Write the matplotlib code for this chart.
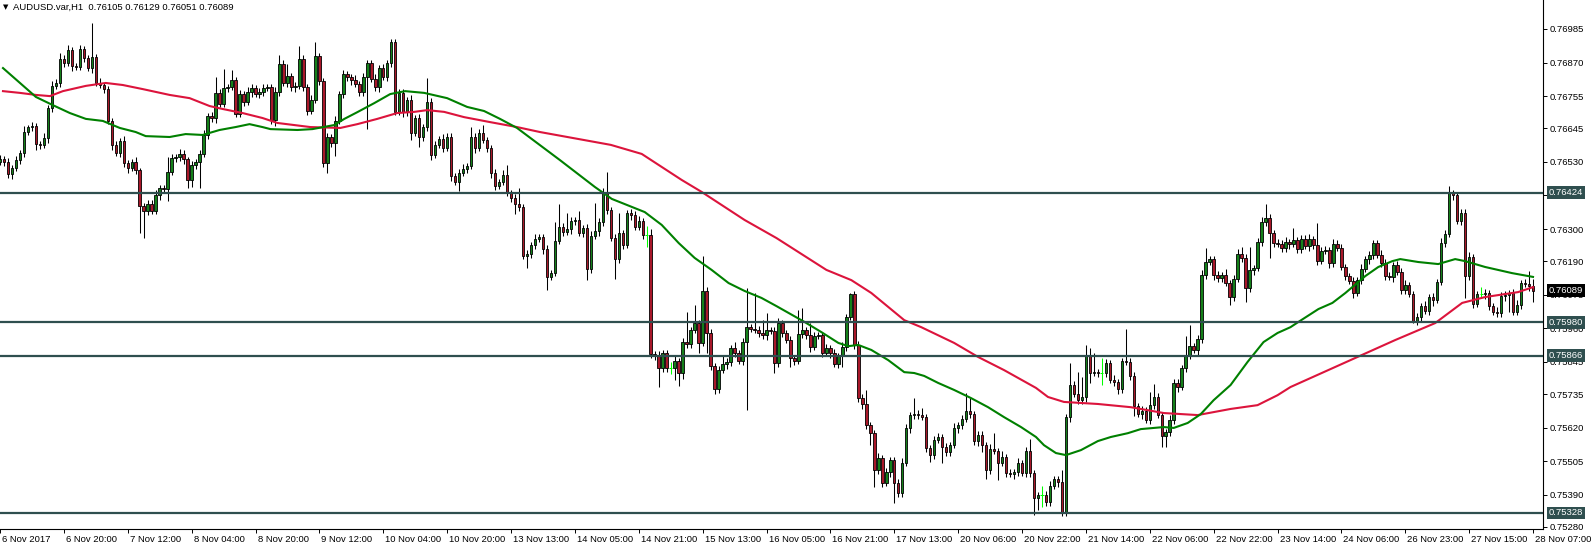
import numpy as np
import matplotlib
matplotlib.use("Agg")
import matplotlib.pyplot as plt
import matplotlib.transforms as mtransforms

plt.rcParams['font.family'] = ['Liberation Sans', 'DejaVu Sans']

title = "AUDUSD.var,H1  0.76105 0.76129 0.76051 0.76089"
current_price = 0.76089

# H1 closes in points (1e-5), first bar 6 Nov 04:00, open = previous close
first_open = 76530
closes = [
    76540, 76529, 76488, 76509, 76536, 76560, 76632, 76649, 76653, 76591, 76588, 76612, 76714, 76790, 76800, 76882, 76868, 76913, 76858, 76855,
    76916, 76885, 76851, 76889, 76800, 76793, 76779, 76670, 76588, 76560, 76601, 76526, 76509, 76529, 76502, 76379, 76362, 76386, 76362, 76416,
    76440, 76437, 76495, 76543, 76546, 76557, 76540, 76468, 76519, 76529, 76557, 76622, 76687, 76680, 76766, 76728, 76783, 76786, 76810, 76694,
    76762, 76735, 76769, 76783, 76762, 76769, 76783, 76786, 76673, 76769, 76865, 76800, 76824, 76786, 76789, 76882, 76786, 76704, 76742, 76892,
    76807, 76526, 76615, 76594, 76670, 76762, 76831, 76820, 76810, 76796, 76769, 76820, 76868, 76814, 76786, 76851, 76820, 76868, 76940, 76701,
    76766, 76701, 76742, 76629, 76680, 76615, 76649, 76735, 76553, 76588, 76608, 76577, 76615, 76481, 76461, 76492, 76505, 76516, 76615, 76577,
    76629, 76605, 76577, 76492, 76447, 76461, 76485, 76423, 76406, 76386, 76375, 76207, 76214, 76245, 76266, 76272, 76231, 76136, 76149, 76259,
    76307, 76290, 76300, 76327, 76331, 76286, 76303, 76163, 76276, 76293, 76324, 76423, 76365, 76269, 76197, 76286, 76245, 76355, 76348, 76307,
    76327, 76279, 76279, 75872, 75869, 75824, 75875, 75824, 75824, 75848, 75807, 75913, 75906, 75954, 75978, 75910, 76088, 75944, 75831, 75752,
    75817, 75838, 75845, 75892, 75875, 75848, 75913, 75964, 75958, 75954, 75944, 75937, 75954, 75951, 75841, 75978, 75944, 75920, 75858, 75848,
    75940, 75954, 75937, 75896, 75934, 75937, 75875, 75892, 75875, 75838, 75865, 75896, 75999, 76077, 75903, 75721, 75701, 75629, 75601, 75475,
    75516, 75430, 75468, 75509, 75430, 75396, 75499, 75619, 75663, 75667, 75664, 75656, 75550, 75526, 75577, 75588, 75554, 75536, 75560, 75619,
    75629, 75649, 75677, 75667, 75574, 75595, 75560, 75475, 75547, 75540, 75499, 75519, 75464, 75461, 75468, 75499, 75464, 75540, 75464, 75379,
    75389, 75389, 75365, 75420, 75444, 75434, 75331, 75656, 75766, 75735, 75714, 75725, 75865, 75807, 75810, 75807, 75807, 75841, 75783, 75776,
    75752, 75848, 75845, 75797, 75694, 75667, 75677, 75646, 75697, 75725, 75663, 75591, 75605, 75646, 75773, 75759, 75824, 75869, 75899, 75886,
    75923, 76142, 76187, 76197, 76142, 76132, 76142, 76115, 76067, 76129, 76214, 76201, 76098, 76160, 76166, 76255, 76324, 76338, 76286, 76252,
    76249, 76235, 76255, 76249, 76262, 76231, 76266, 76242, 76266, 76245, 76190, 76225, 76228, 76184, 76249, 76235, 76170, 76139, 76122, 76081,
    76125, 76163, 76197, 76211, 76252, 76211, 76184, 76139, 76136, 76177, 76153, 76091, 76108, 76077, 75985, 75999, 76036, 76019, 76067, 76057,
    76118, 76252, 76283, 76423, 76416, 76327, 76355, 76139, 76204, 76043, 76077, 76077, 76081, 76036, 76016, 76012, 76071, 76074, 76081, 76016,
    76040, 76115, 76112, 76105, 76089,
]

# wick lengths beyond the body, points
wick_up = [
    12, 10, 15, 9, 14, 12, 20, 8, 14, 10, 12, 18, 10, 16, 12, 20, 14, 18, 10, 12,
    14, 10, 12, 116, 10, 16, 8, 12, 10, 14, 12, 18, 10, 12, 16, 8, 10, 14, 12, 18,
    12, 10, 51, 14, 10, 16, 12, 8, 14, 10, 12, 16, 10, 14, 55, 12, 65, 10, 35, 12,
    14, 10, 16, 12, 10, 14, 12, 10, 10, 16, 31, 12, 40, 10, 14, 45, 12, 10, 16, 48,
    12, 10, 14, 10, 16, 12, 14, 10, 12, 18, 10, 14, 12, 10, 16, 12, 14, 10, 10, 12,
    14, 12, 10, 16, 12, 14, 10, 82, 12, 14, 10, 16, 12, 14, 10, 12, 16, 10, 34, 12,
    14, 27, 10, 12, 14, 10, 16, 34, 12, 14, 55, 10, 14, 12, 16, 10, 12, 14, 10, 65,
    79, 12, 55, 14, 10, 30, 12, 14, 16, 96, 12, 17, 72, 10, 14, 68, 12, 10, 14, 12,
    16, 12, 30, 20, 12, 14, 10, 12, 20, 16, 12, 14, 103, 12, 62, 10, 120, 14, 12, 10,
    14, 27, 12, 10, 20, 12, 14, 134, 12, 123, 14, 45, 58, 12, 14, 17, 12, 10, 14, 12,
    82, 75, 12, 41, 14, 10, 12, 16, 10, 14, 12, 16, 10, 5, 10, 12, 14, 48, 12, 10,
    16, 12, 14, 10, 12, 14, 16, 12, 10, 55, 14, 24, 10, 12, 16, 12, 10, 14, 12, 16,
    12, 14, 62, 45, 10, 14, 12, 10, 16, 55, 12, 20, 10, 14, 12, 16, 10, 14, 41, 10,
    12, 30, 14, 16, 12, 10, 41, 10, 75, 12, 75, 68, 38, 27, 65, 12, 50, 14, 10, 16,
    12, 10, 110, 14, 12, 10, 16, 12, 45, 45, 14, 12, 10, 16, 12, 14, 10, 65, 72, 12,
    14, 16, 48, 12, 10, 14, 12, 20, 12, 14, 16, 24, 12, 79, 12, 14, 16, 48, 12, 10,
    14, 12, 16, 12, 41, 10, 14, 12, 16, 10, 75, 12, 14, 10, 16, 12, 14, 10, 12, 14,
    12, 16, 10, 14, 12, 10, 16, 12, 14, 10, 12, 14, 16, 10, 12, 14, 10, 16, 12, 14,
    12, 16, 14, 24, 12, 10, 14, 12, 16, 10, 12, 24, 14, 10, 12, 16, 12, 14, 10, 12,
    16, 12, 14, 45, 24,
]
wick_dn = [
    10, 14, 12, 16, 10, 12, 14, 10, 12, 20, 14, 10, 16, 12, 10, 14, 12, 10, 16, 12,
    12, 14, 10, 16, 12, 10, 14, 12, 16, 10, 12, 14, 16, 10, 12, 92, 92, 14, 10, 12,
    16, 12, 41, 10, 14, 12, 16, 27, 25, 12, 89, 10, 14, 12, 16, 10, 12, 14, 10, 12,
    10, 14, 12, 16, 10, 12, 14, 10, 12, 20, 12, 10, 14, 12, 16, 10, 12, 14, 10, 12,
    14, 14, 34, 12, 45, 10, 14, 12, 16, 10, 12, 14, 178, 10, 12, 16, 10, 14, 12, 10,
    12, 16, 14, 24, 10, 34, 12, 14, 16, 10, 12, 14, 10, 16, 12, 30, 10, 14, 12, 16,
    10, 12, 14, 16, 14, 10, 12, 10, 14, 34, 12, 10, 41, 12, 14, 10, 16, 45, 12, 10,
    12, 14, 10, 16, 12, 10, 14, 38, 12, 10, 16, 12, 14, 10, 68, 12, 14, 10, 16, 12,
    10, 14, 40, 12, 16, 65, 12, 14, 20, 41, 45, 20, 12, 14, 10, 34, 12, 68, 14, 17,
    12, 10, 16, 14, 12, 10, 14, 233, 12, 10, 14, 12, 16, 10, 34, 12, 14, 10, 31, 12,
    10, 14, 12, 16, 10, 12, 14, 10, 16, 12, 14, 38, 12, 10, 14, 12, 17, 12, 41, 58,
    12, 14, 10, 16, 68, 14, 12, 10, 16, 12, 14, 10, 12, 24, 14, 10, 55, 12, 14, 10,
    16, 12, 10, 14, 12, 16, 24, 31, 12, 10, 58, 12, 14, 10, 16, 12, 10, 14, 12, 58,
    41, 40, 12, 14, 10, 16, 14, 12, 17, 10, 14, 12, 16, 34, 10, 12, 40, 14, 10, 12,
    16, 12, 10, 14, 34, 12, 16, 10, 14, 12, 10, 38, 38, 14, 12, 16, 10, 12, 14, 10,
    20, 12, 14, 10, 16, 12, 14, 10, 27, 12, 10, 14, 48, 12, 16, 10, 14, 12, 86, 12,
    10, 14, 12, 16, 10, 12, 14, 10, 16, 12, 14, 10, 12, 16, 14, 10, 12, 14, 10, 16,
    12, 14, 10, 16, 12, 10, 14, 14, 12, 16, 10, 12, 14, 10, 7, 12, 16, 10, 14, 20,
    12, 10, 14, 12, 16, 10, 14, 75, 12, 14, 10, 12, 16, 14, 10, 12, 14, 16, 58, 12,
    10, 14, 12, 16, 38,
]

# moving averages (bar index, points)
ma_fast_bar = [0.75, 5, 9, 13.25, 17.5, 21.5, 25.75, 30, 34, 36.5, 42.5, 46.5, 50.75, 55, 59, 62.5, 65.75, 67.75, 74.5, 78.25,
               83.75, 86.25, 89.5, 93.75, 97.75, 101.5, 106.25, 112, 117, 121.25, 125.25, 129.5, 140.25, 149, 153.25, 161.5, 165.75, 170, 174, 178.25,
               182.5, 186.5, 190.75, 194.5, 201.5, 205.75, 210, 212.5, 215, 218.25, 222.5, 226.5, 229, 231.5, 235, 239, 243.25, 247.5, 251.5, 255.75,
               259.5, 261.5, 264.5, 267, 270.75, 275, 278.25, 282.5, 285.75, 291.5, 294, 297.5, 300.75, 304, 308.25, 312.5, 316.5, 320, 323.25, 325.25,
               330.25, 333.75, 337, 342, 345.25, 348.75, 350.75, 355.25, 360.25, 364.5, 367, 372, 378.75, 384]
ma_fast = [76851, 76800, 76752, 76724, 76697, 76677, 76670, 76646, 76632, 76618, 76615, 76625, 76622, 76639, 76649, 76659, 76649, 76642, 76639, 76642,
           76656, 76677, 76700, 76731, 76762, 76772, 76766, 76748, 76718, 76704, 76677, 76646, 76536, 76444, 76403, 76358, 76314, 76252, 76201, 76160,
           76115, 76088, 76064, 76036, 75982, 75947, 75910, 75899, 75903, 75886, 75851, 75810, 75807, 75797, 75773, 75749, 75721, 75690, 75656, 75622,
           75588, 75560, 75533, 75526, 75543, 75574, 75588, 75601, 75615, 75622, 75619, 75636, 75666, 75714, 75766, 75845, 75913, 75944, 75964, 75982,
           76026, 76047, 76081, 76139, 76170, 76190, 76197, 76187, 76180, 76197, 76190, 76170, 76149, 76136]

ma_slow_bar = [0.75, 5, 9, 12.5, 15.75, 21.5, 26.5, 30.75, 35.75, 42.5, 47.5, 52.5, 55.75, 60.75, 65.75, 69.5, 77.75, 85.25, 89.5, 94.5,
               99.5, 103.75, 107, 111.25, 116.25, 122.75, 129.5, 135.25, 153, 160.75, 170.75, 175.75, 186.5, 194.5, 207, 213.25, 218.25, 226.5, 230.75, 239,
               245, 251.5, 259.5, 262.5, 266.5, 275, 283.25, 291.5, 300, 308.25, 315, 320, 323.25, 349.5, 359.5, 366.25, 372, 380.25, 384]
ma_slow = [76772, 76766, 76759, 76755, 76772, 76790, 76800, 76793, 76779, 76759, 76748, 76721, 76711, 76697, 76680, 76663, 76649, 76646, 76659, 76677,
           76697, 76701, 76707, 76701, 76683, 76666, 76649, 76632, 76588, 76557, 76468, 76427, 76331, 76269, 76160, 76125, 76081, 75988, 75964, 75910,
           75862, 75817, 75756, 75725, 75708, 75701, 75690, 75670, 75663, 75684, 75697, 75731, 75759, 75920, 75978, 76047, 76067, 76084, 76101]

levels = [0.76424, 0.75980, 0.75866, 0.75328]
price_ticks = [0.76985, 0.76870, 0.76755, 0.76645, 0.76530, 0.76415, 0.76300, 0.76190,
               0.76075, 0.75960, 0.75845, 0.75735, 0.75620, 0.75505, 0.75390, 0.75280]
time_labels = ["6 Nov 2017", "6 Nov 20:00", "7 Nov 12:00", "8 Nov 04:00", "8 Nov 20:00",
               "9 Nov 12:00", "10 Nov 04:00", "10 Nov 20:00", "13 Nov 13:00", "14 Nov 05:00",
               "14 Nov 21:00", "15 Nov 13:00", "16 Nov 05:00", "16 Nov 21:00", "17 Nov 13:00",
               "20 Nov 06:00", "20 Nov 22:00", "21 Nov 14:00", "22 Nov 06:00", "22 Nov 22:00",
               "23 Nov 14:00", "24 Nov 06:00", "26 Nov 23:00", "27 Nov 15:00", "28 Nov 07:00"]

# ---- build OHLC ----
c_pts = np.array(closes)
o_pts = np.r_[first_open, c_pts[:-1]]
hi = (np.maximum(o_pts, c_pts) + np.array(wick_up)) / 1e5
lo = (np.minimum(o_pts, c_pts) - np.array(wick_dn)) / 1e5
o = o_pts / 1e5
c = c_pts / 1e5
x = np.arange(len(c))
bull = c_pts > o_pts
bear = c_pts < o_pts
doji = c_pts == o_pts

green = '#14801a'
red = '#a8182a'

fig = plt.figure(figsize=(15.91, 5.47), dpi=100)
ax = fig.add_axes([0, 18 / 547, 1543 / 1591, 529 / 547])

ax.vlines(x[~doji], lo[~doji], hi[~doji], color='black', lw=0.75, zorder=2)
ax.bar(x[bull], (c - o)[bull], bottom=o[bull], width=0.62, color=green,
       edgecolor='black', lw=0.6, zorder=2)
ax.bar(x[bear], (o - c)[bear], bottom=c[bear], width=0.62, color=red,
       edgecolor='black', lw=0.6, zorder=2)
ax.vlines(x[doji], lo[doji], hi[doji], color='#00ff00', lw=0.75, zorder=2)
ax.hlines(c[doji], x[doji] - 0.4, x[doji] + 0.4, color='#00ff00', lw=0.75, zorder=2)

ax.plot(ma_slow_bar, np.array(ma_slow) / 1e5, color='#dc143c', lw=1.5, zorder=3)
ax.plot(ma_fast_bar, np.array(ma_fast) / 1e5, color='#008000', lw=1.5, zorder=3)

for lvl in levels:
    ax.axhline(lvl, color='#2f4f4f', lw=1.6, zorder=4)

ax.set_xlim(0.75, 386.5)
ax.set_ylim(0.75273, 0.77084)

for s in ['top', 'left']:
    ax.spines[s].set_visible(False)
for s in ['right', 'bottom']:
    ax.spines[s].set_linewidth(0.8)

ax.yaxis.tick_right()
ax.set_yticks(price_ticks)
ax.set_yticklabels([f"{p:.5f}" for p in price_ticks], fontsize=6.8)
ax.tick_params(axis='y', length=3, width=0.7, pad=2)

ax.set_xticks(np.arange(0, len(c), 16))
ax.set_xticklabels(time_labels, fontsize=6.8, ha='left')
ax.tick_params(axis='x', length=3, width=0.7, pad=1)
shift = mtransforms.ScaledTranslation(2 / 100, 0, fig.dpi_scale_trans)
for lbl in ax.get_xticklabels():
    lbl.set_transform(lbl.get_transform() + shift)

for lvl in levels:
    ax.annotate(f"{lvl:.5f}", xy=(1, lvl), xycoords=('axes fraction', 'data'),
                xytext=(4.2, 0), textcoords='offset points', ha='left', va='center',
                fontsize=6.8, color='white', annotation_clip=False, zorder=10,
                bbox=dict(boxstyle='square,pad=0.2', fc='#2f4f4f', ec='none'))
ax.annotate(f"{current_price:.5f}", xy=(1, current_price), xycoords=('axes fraction', 'data'),
            xytext=(4.2, 0), textcoords='offset points', ha='left', va='center',
            fontsize=6.8, color='white', annotation_clip=False, zorder=10,
            bbox=dict(boxstyle='square,pad=0.2', fc='black', ec='none'))

fig.text(3 / 1591, 1 - 7 / 547, "\u25bc", fontsize=5, va='center', family='DejaVu Sans')
fig.text(13 / 1591, 1 - 7 / 547, title, fontsize=6.8, va='center')

fig.savefig("out.png", dpi=100)
